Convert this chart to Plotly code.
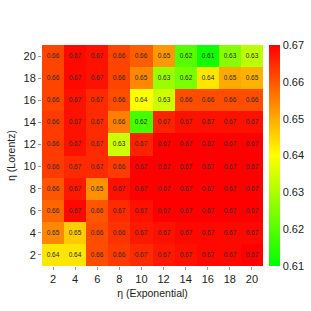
import plotly.graph_objects as go

eta_exp = [2, 4, 6, 8, 10, 12, 14, 16, 18, 20]
eta_lor = [2, 4, 6, 8, 10, 12, 14, 16, 18, 20]

# rows: eta_lor = 2 .. 20
z = [
    [0.643, 0.643, 0.661, 0.663, 0.665, 0.667, 0.668, 0.669, 0.669, 0.670],
    [0.654, 0.646, 0.661, 0.664, 0.667, 0.668, 0.669, 0.669, 0.669, 0.669],
    [0.658, 0.669, 0.660, 0.665, 0.668, 0.670, 0.670, 0.670, 0.670, 0.670],
    [0.660, 0.667, 0.653, 0.668, 0.670, 0.670, 0.670, 0.670, 0.670, 0.670],
    [0.663, 0.665, 0.665, 0.663, 0.670, 0.670, 0.670, 0.670, 0.670, 0.670],
    [0.663, 0.668, 0.665, 0.634, 0.666, 0.670, 0.670, 0.670, 0.670, 0.670],
    [0.663, 0.668, 0.665, 0.655, 0.618, 0.666, 0.668, 0.668, 0.668, 0.668],
    [0.662, 0.668, 0.665, 0.661, 0.640, 0.634, 0.661, 0.661, 0.661, 0.661],
    [0.662, 0.669, 0.668, 0.662, 0.654, 0.628, 0.624, 0.643, 0.650, 0.649],
    [0.662, 0.669, 0.668, 0.662, 0.659, 0.652, 0.620, 0.612, 0.626, 0.632],
]

cbar_ticks = [0.61, 0.62, 0.63, 0.64, 0.65, 0.66, 0.67]

fig = go.Figure(go.Heatmap(
    x=eta_exp, y=eta_lor, z=z,
    zmin=0.61, zmax=0.67,
    colorscale=[[0, "#00ff00"], [0.5, "#ffff00"], [1, "#ff0000"]],
    texttemplate="%{z:.2f}",
    textfont=dict(size=6.5, color="#2a2a2a", family="Liberation Sans"),
    xgap=0, ygap=0,
    colorbar=dict(
        x=1.027, xanchor="left", y=0.5, yanchor="middle",
        len=1.0, thickness=11, outlinewidth=0,
        tickvals=cbar_ticks, ticktext=[f"{v:.2f}" for v in cbar_ticks],
        tickfont=dict(size=11, color="#222222", family="Liberation Sans"),
        ticks="", xpad=0, ypad=0,
    ),
))

fig.update_layout(
    width=311, height=311,
    margin=dict(l=42, r=48, t=45, b=45, autoexpand=False),
    paper_bgcolor="white", plot_bgcolor="white",
    font=dict(family="Liberation Sans", size=11, color="#222222"),
    xaxis=dict(
        title=dict(text="η (Exponential)", font=dict(size=10.5), standoff=5),
        tickvals=eta_exp, ticks="outside", ticklen=3, tickcolor="#999999",
        showgrid=False, zeroline=False, tickfont=dict(size=11), automargin=False,
    ),
    yaxis=dict(
        title=dict(text="η (Lorentz)", font=dict(size=10.5), standoff=5),
        tickvals=eta_lor, ticks="outside", ticklen=3, tickcolor="#999999",
        showgrid=False, zeroline=False, tickfont=dict(size=11), automargin=False,
    ),
)

fig.write_html("out.html", config={"displayModeBar": False},
               post_script="document.body.style.margin='0';")
